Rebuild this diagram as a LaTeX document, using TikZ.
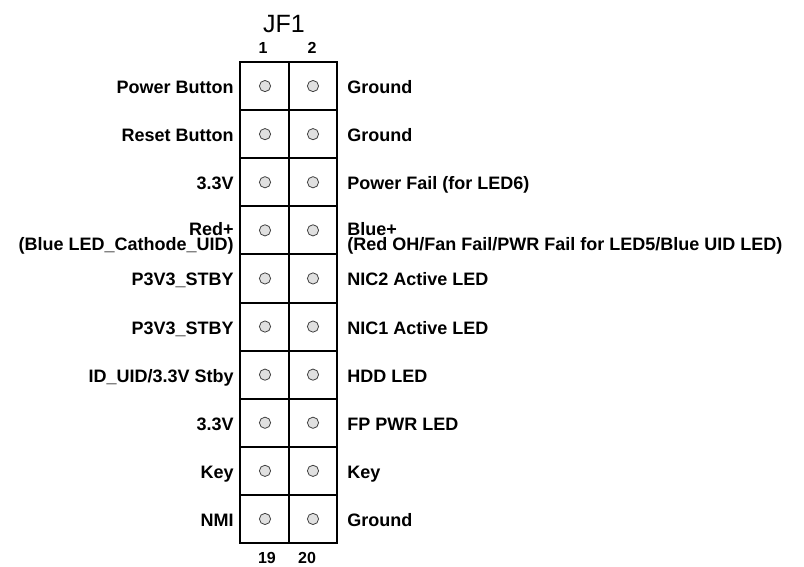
\documentclass[tikz,border=0pt]{standalone}
\usepackage{fontspec}
\setmainfont{Liberation Sans}
\usetikzlibrary{positioning}

\begin{document}
\begin{tikzpicture}[x=0.5pt,y=-0.5pt,
  pinlbl/.style={font=\fontsize{9}{7.5}\selectfont\bfseries,inner sep=0pt,
    text height=6.45pt,text depth=0pt},
  twolbl/.style={font=\fontsize{9}{7.5}\selectfont\bfseries,inner sep=0pt},
  pinnum/.style={font=\fontsize{8}{9}\selectfont\bfseries,inner sep=0pt,anchor=base},
  pinhole/.style={circle,draw=black!75,fill=black!12,line width=0.4pt,
    inner sep=0pt,minimum size=5.6pt},
  gridline/.style={line width=1pt}]
  \useasboundingbox (0,0) rectangle (804,567);
  \def\rowh{48.1}
  % header title and pin numbers
  \node[anchor=base,inner sep=0pt,font=\fontsize{12.5}{15}\selectfont] (title) at (284,33) {JF1};
  \node[pinnum] (n1) at (263,54) {1};
  \node[pinnum] (n2) at (312,54) {2};
  \node[pinnum] (n19) at (267,563) {19};
  \node[pinnum] (n20) at (307,563) {20};
  % connector body
  \draw[gridline] (240,62) rectangle (337,{62+10*\rowh});
  \draw[gridline] (289,62) -- (289,{62+10*\rowh});
  \foreach \i in {1,...,9}
    \draw[gridline] (240,{62+\i*\rowh}) -- (337,{62+\i*\rowh});
  % pins
  \foreach \r in {1,...,10} {
    \pgfmathtruncatemacro{\odd}{2*\r-1}
    \pgfmathtruncatemacro{\even}{2*\r}
    \node[pinhole] (p\odd) at (265,{62+(\r-0.5)*\rowh}) {};
    \node[pinhole] (p\even) at (313,{62+(\r-0.5)*\rowh}) {};
  }
  % pin labels
  \foreach \r/\lt/\rt in {1/Power Button/Ground, 2/Reset Button/Ground,
      3/3.3V/Power Fail (for LED6), 5/P3V3\_STBY/NIC2 Active LED,
      6/P3V3\_STBY/NIC1 Active LED, 7/{ID\_UID/3.3V Stby}/HDD LED,
      8/3.3V/FP PWR LED, 9/Key/Key, 10/NMI/Ground} {
    \node[pinlbl,anchor=east] (l\r) at (234,{62+(\r-0.5)*\rowh+1}) {\lt};
    \node[pinlbl,anchor=west] (r\r) at (347,{62+(\r-0.5)*\rowh+1}) {\rt};
  }
  \node[twolbl,anchor=east,align=right] (l4) at (234,238) {Red+\\(Blue LED\_Cathode\_UID)};
  \node[twolbl,anchor=west,align=left] (r4) at (347,238) {Blue+\\(Red OH/Fan Fail/PWR Fail for LED5/Blue UID LED)};
\end{tikzpicture}
\end{document}
